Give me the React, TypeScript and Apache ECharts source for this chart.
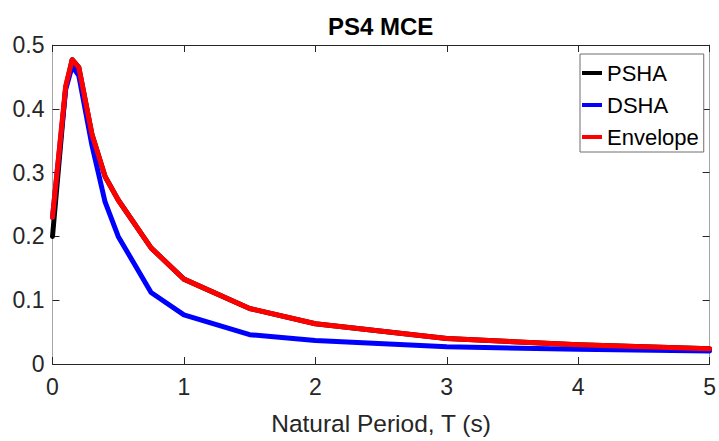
import React, { useEffect, useRef } from "react";
import * as echarts from "echarts";

const periods = [0, 0.1, 0.15, 0.2, 0.3, 0.4, 0.5, 0.75, 1, 1.5, 2, 3, 4, 5];
const psha = [0.2, 0.433, 0.477, 0.465, 0.36, 0.294, 0.257, 0.182, 0.133, 0.087, 0.063, 0.04, 0.03, 0.024];
const dsha = [0.23, 0.43, 0.467, 0.452, 0.343, 0.254, 0.2, 0.112, 0.077, 0.046, 0.037, 0.027, 0.023, 0.0205];
const envelope = [0.23, 0.435, 0.477, 0.465, 0.36, 0.294, 0.257, 0.182, 0.133, 0.087, 0.063, 0.04, 0.03, 0.024];
const seriesNames = ["PSHA", "DSHA", "Envelope"];
const chartTitle = "PS4 MCE";
const xName = "Natural Period, T (s)";

const pair = (ys: number[]) => periods.map((t, i) => [t, ys[i]]);

export default function App() {
  const ref = useRef<HTMLDivElement>(null);
  useEffect(() => {
    if (!ref.current) return;
    const chart = echarts.init(ref.current, null, { renderer: "svg" });
    const font = "'Liberation Sans', Arial, Helvetica, sans-serif";
    const dark = "#262626";
    const grey = "#a6a6a6";
    const colors = ["#000000", "#0000ff", "#ff0000"];
    chart.setOption({
      animation: false,
      backgroundColor: "#ffffff",
      title: {
        text: chartTitle,
        left: 328,
        top: 14,
        padding: 0,
        textStyle: { fontFamily: font, fontSize: 24, fontWeight: "bold", color: "#000" },
      },
      grid: { left: 52.5, right: 6.3, top: 45, bottom: 71, containLabel: false },
      legend: {
        orient: "vertical",
        left: 580,
        top: 54,
        data: seriesNames,
        icon: "rect",
        itemWidth: 20,
        itemHeight: 4,
        itemGap: 6,
        padding: [6, 5, 2, 2],
        borderColor: "#6e6e6e",
        borderWidth: 1,
        backgroundColor: "#ffffff",
        textStyle: { fontFamily: font, fontSize: 22, lineHeight: 26, color: "#000" },
      },
      xAxis: [
        {
          type: "value",
          min: 0,
          max: 5,
          interval: 1,
          name: xName,
          nameLocation: "middle",
          nameGap: 47,
          nameTextStyle: { fontFamily: font, fontSize: 24.5, color: dark },
          axisLine: { show: true, onZero: false, lineStyle: { color: dark, width: 1 } },
          axisTick: { show: true, inside: true, length: 7, lineStyle: { color: dark } },
          axisLabel: { fontFamily: font, fontSize: 23, color: dark, margin: 11 },
          splitLine: { show: false },
        },
        {
          type: "value",
          position: "top",
          min: 0,
          max: 5,
          interval: 1,
          axisLine: { show: true, onZero: false, lineStyle: { color: dark, width: 1 } },
          axisTick: { show: true, inside: true, length: 7, lineStyle: { color: dark } },
          axisLabel: { show: false },
          splitLine: { show: false },
        },
      ],
      yAxis: [
        {
          type: "value",
          min: 0,
          max: 0.5,
          interval: 0.1,
          axisLine: { show: true, onZero: false, lineStyle: { color: grey, width: 1 } },
          axisTick: { show: true, inside: true, length: 7, lineStyle: { color: dark } },
          axisLabel: { fontFamily: font, fontSize: 23, color: dark, margin: 8 },
          splitLine: { show: false },
        },
        {
          type: "value",
          position: "right",
          min: 0,
          max: 0.5,
          interval: 0.1,
          axisLine: { show: true, onZero: false, lineStyle: { color: grey, width: 1 } },
          axisTick: { show: true, inside: true, length: 7, lineStyle: { color: dark } },
          axisLabel: { show: false },
          splitLine: { show: false },
        },
      ],
      series: [
        { name: seriesNames[0], data: pair(psha), color: colors[0] },
        { name: seriesNames[1], data: pair(dsha), color: colors[1] },
        { name: seriesNames[2], data: pair(envelope), color: colors[2] },
      ].map((s) => ({
        ...s,
        type: "line",
        xAxisIndex: 0,
        yAxisIndex: 0,
        showSymbol: false,
        symbol: "none",
        lineStyle: { width: 5, color: s.color, join: "round", cap: "round" },
        itemStyle: { color: s.color },
      })),
    });
    return () => chart.dispose();
  }, []);
  return (
    <div
      ref={ref}
      style={{ position: "fixed", left: 0, top: 0, width: 719, height: 441, background: "#fff" }}
    />
  );
}
